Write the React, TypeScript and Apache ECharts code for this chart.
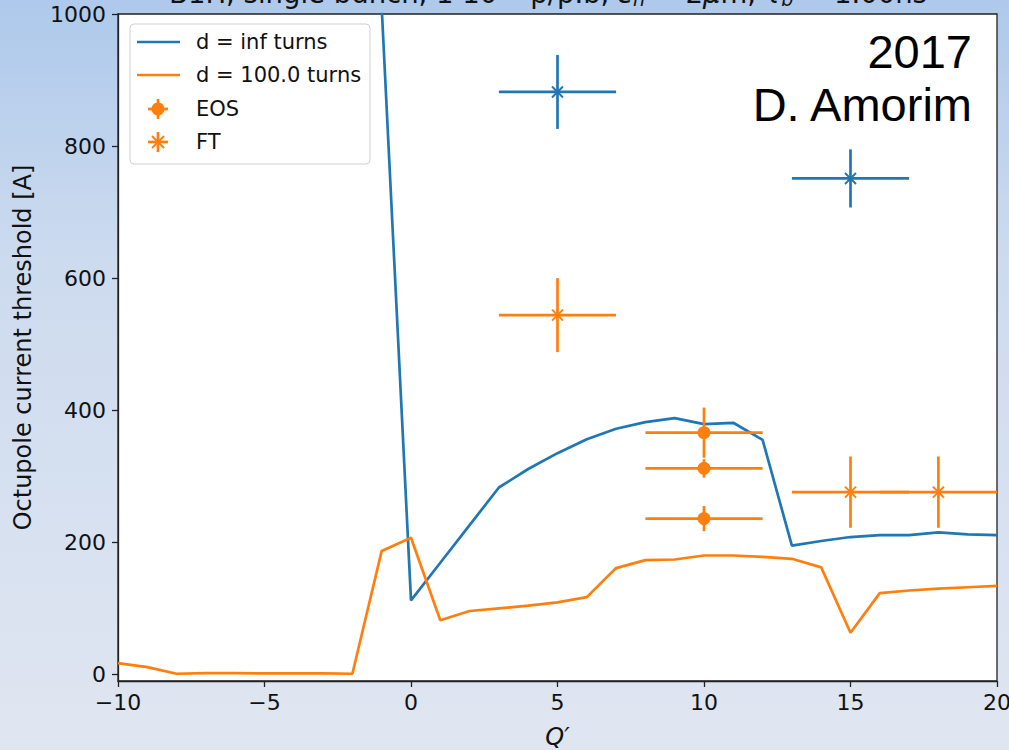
import React, { useEffect, useRef } from "react";
import * as echarts from "echarts";

const Q = [-10, -9, -8, -7, -6, -5, -4, -3, -2, -1, 0, 1, 2, 3, 4, 5, 6, 7, 8, 9, 10, 11, 12, 13, 14, 15, 16, 17, 18, 19, 20];
const infTurns = [null, null, null, null, null, null, null, null, null, 1010, 112, 169, 226, 283, 311, 335, 356, 372, 382, 388, 379, 381, 355, 195, 202, 208, 211, 211, 215, 212, 211];
const turns100 = [17, 11, 1, 2, 2, 1.5, 1.5, 1.5, 1, 187, 207, 82, 96, 100, 104, 109, 117, 161, 173, 174, 180, 180, 178, 175, 162, 63, 123, 127, 130, 132, 134];

// error-bar measurements: Q', value, Q' error, value error
const ftBlueQ = [5, 15];
const ftBlueVal = [882, 751];
const ftBlueXerr = [2, 2];
const ftBlueYerr = [56, 44];

const ftOrangeQ = [5, 15, 18];
const ftOrangeVal = [544, 276, 276];
const ftOrangeXerr = [2, 2, 2];
const ftOrangeYerr = [56, 54, 54];

const eosQ = [10, 10, 10];
const eosVal = [366, 312, 236];
const eosXerr = [2, 2, 2];
const eosYerr = [38, 14, 19];

const yTicks = [0, 200, 400, 600, 800, 1000];
const legendNames = ["d = inf turns", "d = 100.0 turns", "EOS", "FT"];
const titleText = "B1H, single bunch, 1·10{sup|11} p/p.b, {it|ε}{sub|n} = 2{it|μ}m, {it|τ}{sub|b} = 1.00ns";
const stampLines = ["2017", "D. Amorim"];

const BLUE = "#1f77b4";
const ORANGE = "#ff7f0e";
const FONT = "DejaVu Sans";

function errData(q: number[], v: number[], xe: number[], ye: number[]) {
  return q.map((x, i) => [x, v[i], xe[i], ye[i]]);
}

function errSeries(name: string, data: number[][], color: string, marker: "x" | "o") {
  return {
    type: "custom",
    name,
    data,
    encode: { x: 0, y: 1 },
    clip: true,
    z: 5,
    renderItem: (params: any, api: any) => {
      const x = api.value(0);
      const y = api.value(1);
      const xe = api.value(2);
      const ye = api.value(3);
      const c = api.coord([x, y]);
      const l = api.coord([x - xe, y]);
      const r = api.coord([x + xe, y]);
      const t = api.coord([x, y + ye]);
      const b = api.coord([x, y - ye]);
      const st = { stroke: color, lineWidth: 2.7 };
      const children: any[] = [
        { type: "line", shape: { x1: l[0], y1: l[1], x2: r[0], y2: r[1] }, style: st },
        { type: "line", shape: { x1: t[0], y1: t[1], x2: b[0], y2: b[1] }, style: st },
      ];
      if (marker === "o") {
        children.push({ type: "circle", shape: { cx: c[0], cy: c[1], r: 6.5 }, style: { fill: color } });
      } else {
        const s = 5.5;
        children.push({ type: "line", shape: { x1: c[0] - s, y1: c[1] - s, x2: c[0] + s, y2: c[1] + s }, style: { stroke: color, lineWidth: 2 } });
        children.push({ type: "line", shape: { x1: c[0] - s, y1: c[1] + s, x2: c[0] + s, y2: c[1] - s }, style: { stroke: color, lineWidth: 2 } });
      }
      return { type: "group", children };
    },
  };
}

function legendGraphic() {
  const x0 = 130;
  const y0 = 24;
  const rows = [42, 75, 109, 142];
  const colors = [BLUE, ORANGE, ORANGE, ORANGE];
  const children: any[] = [
    {
      type: "rect",
      shape: { x: x0, y: y0, width: 240, height: 140, r: 4 },
      style: { fill: "rgba(255,255,255,0.85)", stroke: "#d0d0d0", lineWidth: 1 },
    },
  ];
  rows.forEach((ry, i) => {
    const col = colors[i];
    if (i < 2) {
      children.push({ type: "line", shape: { x1: 137, y1: ry, x2: 180, y2: ry }, style: { stroke: col, lineWidth: 2.7 } });
    } else {
      children.push({ type: "line", shape: { x1: 148, y1: ry, x2: 168, y2: ry }, style: { stroke: col, lineWidth: 2.7 } });
      children.push({ type: "line", shape: { x1: 158, y1: ry - 10, x2: 158, y2: ry + 10 }, style: { stroke: col, lineWidth: 2.7 } });
      if (i === 2) {
        children.push({ type: "circle", shape: { cx: 158, cy: ry, r: 6.5 }, style: { fill: col } });
      } else {
        const s = 6;
        children.push({ type: "line", shape: { x1: 158 - s, y1: ry - s, x2: 158 + s, y2: ry + s }, style: { stroke: col, lineWidth: 2 } });
        children.push({ type: "line", shape: { x1: 158 - s, y1: ry + s, x2: 158 + s, y2: ry - s }, style: { stroke: col, lineWidth: 2 } });
      }
    }
    children.push({
      type: "text",
      x: 196,
      y: ry,
      style: { text: legendNames[i], fontSize: 21, fontFamily: FONT, fill: "#111", verticalAlign: "middle", align: "left" },
    });
  });
  return { type: "group", children, z: 50 };
}

export default function App() {
  const ref = useRef<HTMLDivElement>(null);
  useEffect(() => {
    if (!ref.current) return;
    const chart = echarts.init(ref.current, null, { renderer: "svg" });
    const option: any = {
      animation: false,
      backgroundColor: new echarts.graphic.LinearGradient(0, 0, 0, 1, [
        { offset: 0, color: "#aec9eb" },
        { offset: 0.35, color: "#cddbef" },
        { offset: 1, color: "#e0e6f1" },
      ]),
      grid: {
        left: 118,
        right: 1009 - 997,
        top: 14,
        bottom: 750 - 681,
        outerBoundsMode: "none",
        containLabel: false,
        show: true,
        backgroundColor: "#ffffff",
        borderColor: "#222",
        borderWidth: 1.3,
      },
      xAxis: {
        type: "value",
        min: -10,
        max: 20,
        interval: 5,
        name: "Q′",
        nameLocation: "middle",
        nameGap: 44,
        nameTextStyle: { fontSize: 24, fontFamily: FONT, fontStyle: "italic", color: "#111" },
        axisLine: { show: true, onZero: false, lineStyle: { color: "#222", width: 1.3 } },
        axisTick: { show: true, length: 6, inside: false, lineStyle: { color: "#222", width: 1.3 } },
        axisLabel: {
          fontSize: 22,
          fontFamily: FONT,
          color: "#111",
          margin: 10,
          formatter: (v: number) => (v < 0 ? "\u2212" + Math.abs(v) : String(v)),
        },
        splitLine: { show: false },
      },
      yAxis: {
        type: "value",
        min: -10,
        max: 1000,
        name: "Octupole current threshold [A]",
        nameLocation: "middle",
        nameGap: 83,
        nameTextStyle: { fontSize: 24, fontFamily: FONT, color: "#111" },
        axisLine: { show: true, onZero: false, lineStyle: { color: "#222", width: 1.3 } },
        axisTick: { show: true, length: 6, inside: false, customValues: yTicks, lineStyle: { color: "#222", width: 1.3 } },
        axisLabel: {
          fontSize: 22,
          fontFamily: FONT,
          color: "#111",
          margin: 12,
          customValues: yTicks,
          formatter: (v: number) => String(v),
        },
        splitLine: { show: false },
      },
      series: [
        {
          type: "line",
          name: legendNames[0],
          data: Q.map((q, i) => [q, infTurns[i]]),
          showSymbol: false,
          symbol: "none",
          connectNulls: false,
          clip: true,
          lineStyle: { color: BLUE, width: 2.7 },
          itemStyle: { color: BLUE },
          z: 2,
        },
        {
          type: "line",
          name: legendNames[1],
          data: Q.map((q, i) => [q, turns100[i]]),
          showSymbol: false,
          symbol: "none",
          clip: true,
          lineStyle: { color: ORANGE, width: 2.7 },
          itemStyle: { color: ORANGE },
          z: 2,
        },
        errSeries("FT inf", errData(ftBlueQ, ftBlueVal, ftBlueXerr, ftBlueYerr), BLUE, "x"),
        errSeries(legendNames[2], errData(eosQ, eosVal, eosXerr, eosYerr), ORANGE, "o"),
        errSeries(legendNames[3], errData(ftOrangeQ, ftOrangeVal, ftOrangeXerr, ftOrangeYerr), ORANGE, "x"),
      ],
      graphic: [
        {
          type: "text",
          x: 548,
          y: -7,
          z: 60,
          style: {
            text: titleText,
            align: "center",
            verticalAlign: "middle",
            fontSize: 27.5,
            fontFamily: FONT,
            fill: "#111",
            rich: {
              sup: { fontSize: 19, fontFamily: FONT, fill: "#111", padding: [0, 0, 15, 0] },
              sub: { fontSize: 19, fontFamily: FONT, fontStyle: "italic", fill: "#111", padding: [12, 0, 0, 0] },
              it: { fontSize: 27.5, fontFamily: FONT, fontStyle: "italic", fill: "#111" },
            },
          },
        },
        legendGraphic(),
        {
          type: "text",
          x: 972,
          y: 51,
          z: 60,
          style: { text: stampLines[0], align: "right", verticalAlign: "middle", fontSize: 47, fontFamily: "Liberation Sans", fill: "#000" },
        },
        {
          type: "text",
          x: 972,
          y: 104,
          z: 60,
          style: { text: stampLines[1], align: "right", verticalAlign: "middle", fontSize: 47, fontFamily: "Liberation Sans", fill: "#000" },
        },
      ],
    };
    chart.setOption(option);
    return () => chart.dispose();
  }, []);
  return <div ref={ref} style={{ position: "fixed", left: 0, top: 0, width: 1009, height: 750 }} />;
}
